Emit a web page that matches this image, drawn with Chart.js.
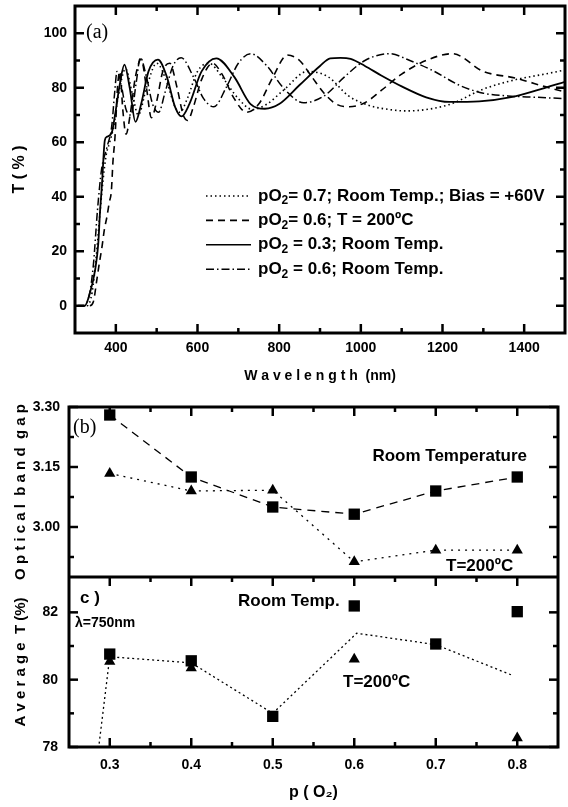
<!DOCTYPE html>
<html>
<head>
<meta charset="utf-8">
<title>Transmittance, optical band gap and average T vs p(O2)</title>
<script src="https://cdn.jsdelivr.net/npm/chart.js@4.4.1/dist/chart.umd.min.js"></script>
<style>
  body { margin: 0; background: #fff; }
  #wrap { position: relative; width: 568px; height: 807px; }
  canvas { position: absolute; left: 0; }
</style>
</head>
<body>
<div id="wrap">
  <canvas id="chartA" width="568" height="395" style="top:0"></canvas>
  <canvas id="chartBC" width="568" height="412" style="top:395px"></canvas>
</div>
<script>
const SANS = "'Liberation Sans', Arial, sans-serif";
const SERIF = "'Liberation Serif', 'Times New Roman', serif";

// ---- (a) transmittance spectra, wavelength (nm) / T (%)
// pO2 = 0.7, room temp., bias +60V (dotted)
const wlBias = [307, 330, 342, 352, 360, 368, 376, 385, 395, 405, 424, 440, 455, 475, 500, 525, 545, 557, 575, 600, 628, 660, 700, 735, 770, 810, 870, 920, 970, 1020, 1070, 1110, 1160, 1220, 1300, 1380, 1450, 1500];
const tBias = [0, 0, 5, 18, 32, 45, 55, 60, 66, 76, 87, 78, 70, 80, 89, 82, 73, 71, 76, 86, 89, 84, 76, 72, 74, 79, 86, 84, 77, 73.5, 72, 71.5, 72, 74, 79.5, 83, 85, 86.5];
// pO2 = 0.6, T = 200C (dashed)
const wl200 = [307, 335, 345, 353, 360, 366, 372, 378, 384, 389, 393, 398, 404, 410, 417, 425, 435, 448, 462, 475, 487, 500, 515, 532, 550, 565, 576, 590, 610, 637, 660, 690, 720, 750, 785, 820, 850, 880, 910, 940, 972, 1010, 1050, 1100, 1160, 1224, 1300, 1380, 1460, 1500];
const t200 = [0, 0, 1.5, 9, 16, 21.5, 28, 32.5, 38, 42, 53, 62, 80, 86, 72, 63, 70, 84, 90.5, 80, 69, 75, 86, 89, 80, 70, 68, 73, 83, 89, 85, 76, 71, 74, 84, 92, 90, 84, 78, 74, 73, 74.5, 79, 85, 90, 92.5, 86, 83.5, 80, 78.5];
// pO2 = 0.3, room temp. (solid)
const wlP03 = [307, 324, 336, 349, 357, 361, 366, 373, 378, 385, 391, 398, 410, 421, 434, 448, 462, 480, 503, 525, 545, 561, 580, 610, 646, 690, 730, 765, 800, 850, 900, 925, 950, 975, 1010, 1050, 1100, 1160, 1217, 1290, 1375, 1430, 1500];
const tP03 = [0, 0, 4.4, 12.9, 22.8, 33.8, 44.5, 60.7, 62, 62.5, 64, 70, 81.5, 88.5, 80, 67.5, 74, 86, 90.3, 84, 73, 69.5, 74, 86, 90.8, 84, 74, 72.3, 74, 81, 88, 90.8, 91, 90.6, 88, 84.5, 80.5, 76.5, 74.8, 75, 76.7, 79, 82.2];
// pO2 = 0.6, room temp. (dash-dot)
const wlP06 = [307, 322, 335, 345, 355, 365, 378, 390, 397, 403, 412, 425, 437, 450, 460, 475, 490, 505, 520, 540, 560, 590, 615, 640, 670, 700, 730, 770, 810, 860, 910, 960, 1010, 1070, 1120, 1180, 1240, 1300, 1360, 1430, 1500];
const tP06 = [0, 0, 4, 15, 35, 50, 58, 66, 78, 86, 82, 72, 70, 82, 91, 84, 74, 71, 78, 88, 91, 84, 76, 73, 80, 89, 92.5, 88, 80, 74.5, 77, 84, 90, 92.5, 90, 86, 81, 78, 77, 76.5, 76];

const legendLabels = ['= 0.7; Room Temp.; Bias = +60V', '= 0.6; T = 200\u00baC', ' = 0.3; Room Temp.', ' = 0.6; Room Temp.'];

const wlTicks = [400, 600, 800, 1000, 1200, 1400];
const wlMinor = [500, 700, 900, 1100, 1300];
const tTicks = [0, 20, 40, 60, 80, 100];
const tMinor = [10, 30, 50, 70, 90];

// ---- (b) optical band gap and (c) average T vs p(O2)
const pO2 = [0.3, 0.4, 0.5, 0.6, 0.7, 0.8];
const gapRT = [3.28, 3.125, 3.05, 3.032, 3.09, 3.125];
const gap200 = [3.134, 3.09, 3.092, 2.913, 2.942, 2.942];
const avgRT = [80.76, 80.56, 78.91, 82.19, 81.06, 82.02];
const pO2at200 = [0.3, 0.4, 0.6, 0.8];
const avg200 = [80.54, 80.35, 80.61, 78.27];
const pTrend = [0.287, 0.3, 0.4, 0.5, 0.603, 0.7, 0.795];
const avgTrend = [78.1, 80.68, 80.5, 79.0, 81.38, 81.04, 80.12];

const pTicks = [0.3, 0.4, 0.5, 0.6, 0.7, 0.8];
const pMinor = [0.35, 0.45, 0.55, 0.65, 0.75];
const gapTicks = [3.00, 3.15, 3.30];
const gapMinor = [2.925, 3.075, 3.225];
const avgTicks = [78, 80, 82];
const avgMinor = [79, 81];

const DOT = [1.5, 3], DASH = [7, 5], DASHDOT = [8, 3, 1.5, 3];
const MAJ = 9, MIN = 5;

function pts(xs, ys) { return xs.map((x, i) => ({ x: x, y: ys[i] })); }

function line(ctx, x1, y1, x2, y2) {
  ctx.beginPath(); ctx.moveTo(x1, y1); ctx.lineTo(x2, y2); ctx.stroke();
}
function ticksX(ctx, scale, vals, len, yEdge, dir) {
  vals.forEach(v => { const p = scale.getPixelForValue(v); line(ctx, p, yEdge, p, yEdge + dir * len); });
}
function ticksY(ctx, scale, vals, len, xEdge, dir) {
  vals.forEach(v => { const p = scale.getPixelForValue(v); line(ctx, xEdge, p, xEdge + dir * len, p); });
}
function fixW(w) { return s => { s.width = w; s.paddingTop = s.paddingBottom = 0; }; }
function fixH(h) { return s => { s.height = h; s.paddingLeft = s.paddingRight = 0; }; }
function setTicks(vals) { return s => { s.ticks = vals.map(v => ({ value: v })); }; }

const tickFont = { family: SANS, size: 14, weight: 'bold' };
const noGrid = { display: false, drawTicks: false };

// ---------- panel (a)
const plugA = {
  id: 'plugA',
  afterDraw(chart) {
    const { ctx, chartArea: a, scales: { x, y } } = chart;
    ctx.save();
    ctx.setLineDash([]);
    ctx.strokeStyle = '#000';
    ctx.lineWidth = 3;
    ctx.strokeRect(a.left, a.top, a.right - a.left, a.bottom - a.top);
    ctx.lineWidth = 2.5;
    ticksX(ctx, x, wlTicks, MAJ, a.bottom, -1); ticksX(ctx, x, wlMinor, MIN, a.bottom, -1);
    ticksX(ctx, x, wlTicks, MAJ, a.top, 1); ticksX(ctx, x, wlMinor, MIN, a.top, 1);
    ticksY(ctx, y, tTicks, MAJ, a.left, 1); ticksY(ctx, y, tMinor, MIN, a.left, 1);
    ticksY(ctx, y, tTicks, MAJ, a.right, -1); ticksY(ctx, y, tMinor, MIN, a.right, -1);

    ctx.fillStyle = '#000';
    ctx.textBaseline = 'middle';
    ctx.font = '20px ' + SERIF;
    ctx.fillText('(a)', 86, 33);

    // legend
    const dashes = [DOT, DASH, [], DASHDOT];
    dashes.forEach((d, i) => {
      const yy = 196 + i * 24.4;
      ctx.lineWidth = 1.6;
      ctx.setLineDash(d);
      line(ctx, 206, yy, 251, yy);
      ctx.setLineDash([]);
      ctx.font = 'bold 17px ' + SANS;
      ctx.fillText('pO', 258, yy);
      let xx = 258 + ctx.measureText('pO').width;
      ctx.font = 'bold 12px ' + SANS;
      ctx.fillText('2', xx, yy + 5);
      xx += ctx.measureText('2').width;
      ctx.font = 'bold 17px ' + SANS;
      ctx.fillText(legendLabels[i], xx, yy);
    });
    ctx.restore();
  }
};

new Chart(document.getElementById('chartA'), {
  type: 'scatter',
  data: {
    datasets: [
      { data: pts(wlBias, tBias), showLine: true, borderColor: '#000', borderWidth: 1.6, borderDash: DOT, pointRadius: 0, cubicInterpolationMode: 'monotone' },
      { data: pts(wl200, t200), showLine: true, borderColor: '#000', borderWidth: 1.6, borderDash: DASH, pointRadius: 0, cubicInterpolationMode: 'monotone' },
      { data: pts(wlP06, tP06), showLine: true, borderColor: '#000', borderWidth: 1.5, borderDash: DASHDOT, pointRadius: 0, cubicInterpolationMode: 'monotone' },
      { data: pts(wlP03, tP03), showLine: true, borderColor: '#000', borderWidth: 1.8, pointRadius: 0, cubicInterpolationMode: 'monotone' }
    ]
  },
  options: {
    responsive: false,
    animation: false,
    layout: { padding: { top: 6, right: 3, left: 0, bottom: 0 } },
    plugins: { legend: { display: false }, tooltip: { enabled: false } },
    scales: {
      x: {
        type: 'linear', min: 300, max: 1500,
        afterBuildTicks: setTicks(wlTicks),
        afterFit: fixH(62),
        grid: noGrid, border: { display: false },
        ticks: { color: '#000', font: tickFont, padding: 7, maxRotation: 0, autoSkip: false, callback: v => String(v) },
        title: { display: true, text: 'W a v e l e n g t h  (nm)', color: '#000', font: { family: SANS, size: 14, weight: 'bold' }, padding: { top: 0, bottom: 10 } }
      },
      y: {
        type: 'linear', min: -10, max: 110,
        afterBuildTicks: setTicks(tTicks),
        afterFit: fixW(75),
        grid: noGrid, border: { display: false },
        ticks: { color: '#000', font: tickFont, padding: 8, callback: v => String(v) },
        title: { display: true, text: 'T ( % )', color: '#000', font: { family: SANS, size: 16, weight: 'bold' }, padding: { top: 10, bottom: 0 } }
      }
    }
  },
  plugins: [plugA]
});

// ---------- panels (b) and (c)
const plugBC = {
  id: 'plugBC',
  afterDraw(chart) {
    const { ctx, chartArea: a, scales: { x, yB, yC } } = chart;
    ctx.save();
    ctx.setLineDash([]);
    ctx.strokeStyle = '#000';
    ctx.lineWidth = 3;
    ctx.strokeRect(a.left, a.top, a.right - a.left, a.bottom - a.top);
    line(ctx, a.left, yB.bottom, a.right, yB.bottom);
    ctx.lineWidth = 2.5;
    ticksX(ctx, x, pTicks, MAJ, a.top, 1); ticksX(ctx, x, pMinor, MIN, a.top, 1);
    ticksX(ctx, x, pTicks, MAJ, yB.bottom, 1); ticksX(ctx, x, pMinor, MIN, yB.bottom, 1);
    ticksX(ctx, x, pTicks, MAJ, a.bottom, -1); ticksX(ctx, x, pMinor, MIN, a.bottom, -1);
    [[yB, gapTicks, gapMinor], [yC, avgTicks, avgMinor]].forEach(([s, maj, min]) => {
      ticksY(ctx, s, maj, MAJ, a.left, 1); ticksY(ctx, s, min, MIN, a.left, 1);
      ticksY(ctx, s, maj, MAJ, a.right, -1); ticksY(ctx, s, min, MIN, a.right, -1);
    });

    ctx.fillStyle = '#000';
    ctx.textBaseline = 'middle';
    ctx.font = '20px ' + SERIF;
    ctx.fillText('(b)', 73, 33);
    ctx.font = 'bold 17px ' + SANS;
    ctx.textAlign = 'right';
    ctx.fillText('Room Temperature', 527, 61);
    ctx.textAlign = 'left';
    ctx.fillText('T=200\u00baC', 446, 171);
    ctx.fillText('c )', 80, 203);
    ctx.fillText('Room Temp.', 238, 206);
    ctx.fillText('T=200\u00baC', 343, 287);
    ctx.font = 'bold 14px ' + SANS;
    ctx.fillText('\u03bb=750nm', 75, 228);
    ctx.restore();
  }
};

new Chart(document.getElementById('chartBC'), {
  type: 'scatter',
  data: {
    datasets: [
      { data: pts(pTrend, avgTrend), yAxisID: 'yC', showLine: true, borderColor: '#000', borderWidth: 1.3, borderDash: [2, 3], pointRadius: 0 },
      { data: pts(pO2, gapRT), yAxisID: 'yB', showLine: true, borderColor: '#000', borderWidth: 1.3, borderDash: [8, 6], pointStyle: 'rect', pointRadius: 8, pointBackgroundColor: '#000', pointBorderWidth: 0 },
      { data: pts(pO2, gap200), yAxisID: 'yB', showLine: true, borderColor: '#000', borderWidth: 1.3, borderDash: [2, 5], pointStyle: 'triangle', pointRadius: 6.5, pointBackgroundColor: '#000', pointBorderWidth: 0 },
      { data: pts(pO2, avgRT), yAxisID: 'yC', showLine: false, pointStyle: 'rect', pointRadius: 8, pointBackgroundColor: '#000', pointBorderWidth: 0 },
      { data: pts(pO2at200, avg200), yAxisID: 'yC', showLine: false, pointStyle: 'triangle', pointRadius: 6.5, pointBackgroundColor: '#000', pointBorderWidth: 0 }
    ]
  },
  options: {
    responsive: false,
    animation: false,
    layout: { padding: { top: 12, right: 10, left: 0, bottom: 0 } },
    plugins: { legend: { display: false }, tooltip: { enabled: false } },
    scales: {
      x: {
        type: 'linear', min: 0.25, max: 0.85,
        afterBuildTicks: setTicks(pTicks),
        afterFit: fixH(60),
        grid: noGrid, border: { display: false },
        ticks: { color: '#000', font: tickFont, padding: 10, maxRotation: 0, autoSkip: false, callback: v => v.toFixed(1) },
        title: { display: true, text: 'p ( O\u2082)', color: '#000', font: { family: SANS, size: 16, weight: 'bold' }, padding: { top: 0, bottom: 5 } }
      },
      yC: {
        type: 'linear', position: 'left', stack: 'bc', stackWeight: 1, min: 78, max: 83.05,
        afterBuildTicks: setTicks(avgTicks),
        afterFit: fixW(69),
        grid: noGrid, border: { display: false },
        ticks: { color: '#000', font: tickFont, padding: 11, callback: v => String(v) },
        title: { display: true, text: 'A v e r a g e  T (%)', color: '#000', font: { family: SANS, size: 15, weight: 'bold' }, padding: { top: 12, bottom: 0 } }
      },
      yB: {
        type: 'linear', position: 'left', stack: 'bc', stackWeight: 1, min: 2.875, max: 3.30,
        afterBuildTicks: setTicks(gapTicks),
        afterFit: fixW(69),
        grid: noGrid, border: { display: false },
        ticks: { color: '#000', font: tickFont, padding: 9, callback: v => v.toFixed(2) },
        title: { display: true, text: 'O p t i c a l  b a n d  g a p', color: '#000', font: { family: SANS, size: 15, weight: 'bold' }, padding: { top: 12, bottom: 0 } }
      }
    }
  },
  plugins: [plugBC]
});
</script>
</body>
</html>
